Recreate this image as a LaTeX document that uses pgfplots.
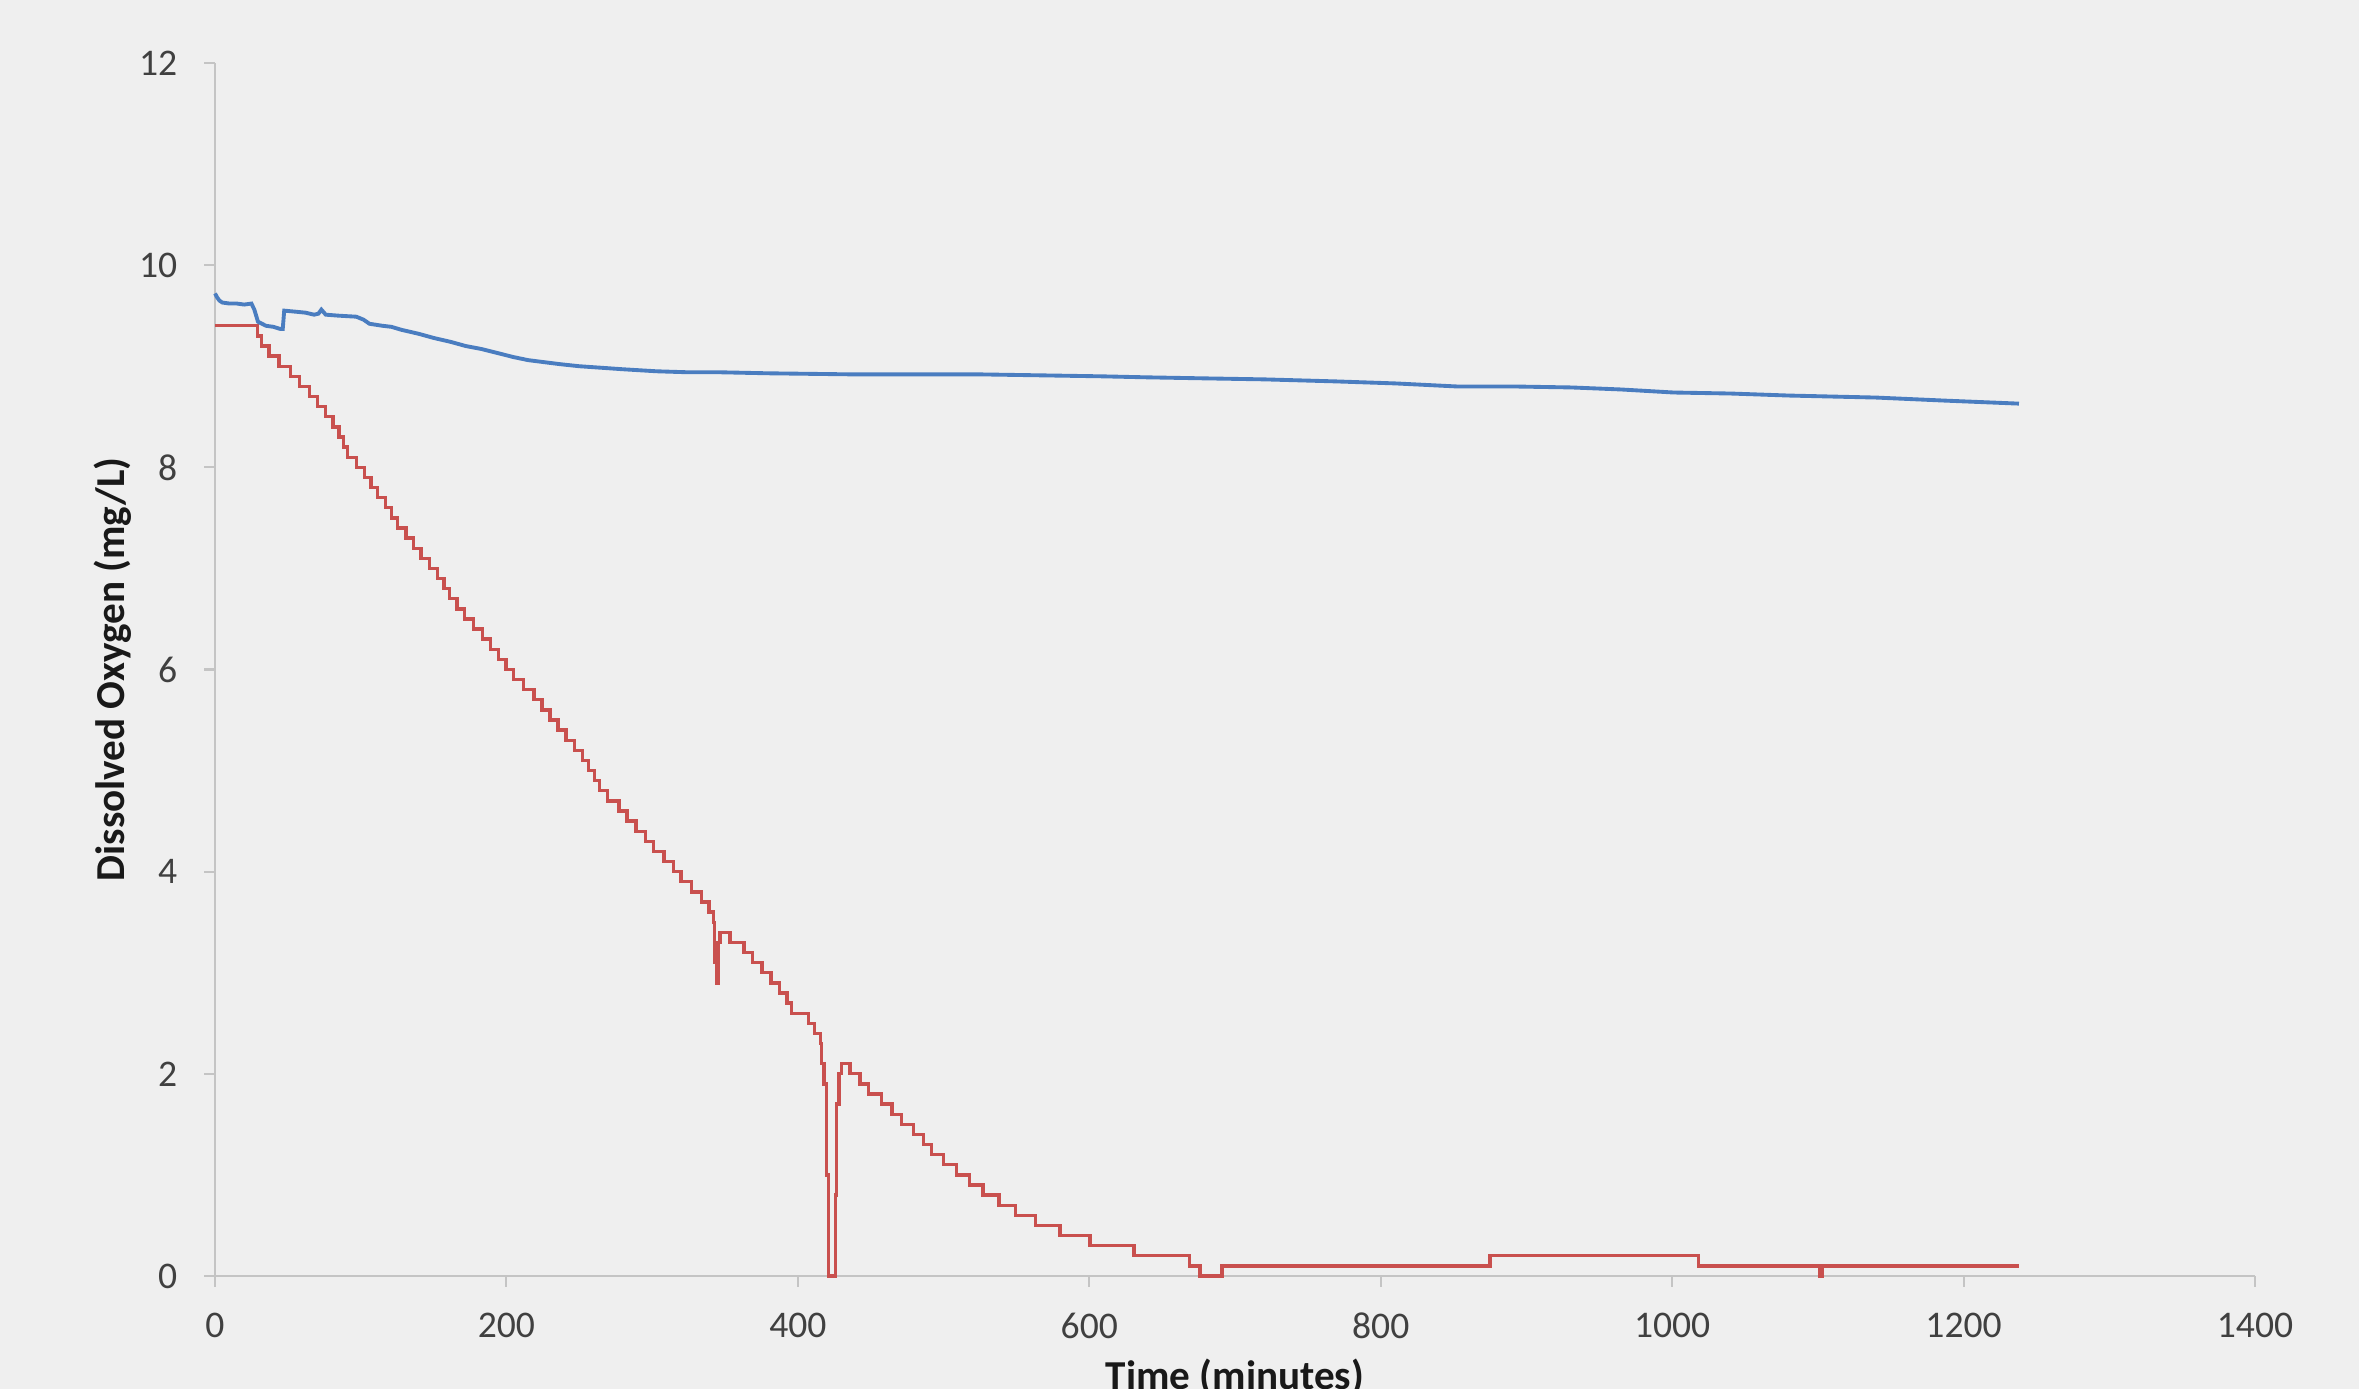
\documentclass[border=0pt]{standalone}
\usepackage{fontspec}
\setmainfont{Carlito}
\usepackage{pgfplots}
\pgfplotsset{compat=1.18}
\definecolor{bg}{HTML}{EFEFEF}
\definecolor{axgray}{HTML}{C4C4C4}
\definecolor{tickcol}{HTML}{404040}
\definecolor{doblue}{HTML}{4A7DC0}
\definecolor{dored}{HTML}{C9504E}
\begin{document}
\begin{tikzpicture}
\useasboundingbox (0,0) rectangle (23.59cm,13.89cm);
\fill[bg] (0,0) rectangle (23.59cm,13.89cm);
\begin{axis}[
  at={(2.15cm,1.13cm)}, anchor=south west,
  scale only axis, width=20.40cm, height=12.13cm,
  xmin=0, xmax=1400, ymin=0, ymax=12,
  xtick={0,200,...,1400}, ytick={0,2,...,12},
  axis x line*=bottom, axis y line*=left,
  axis line style={axgray, line width=0.6pt, -},
  tick style={axgray, line width=0.6pt},
  tick align=outside, major tick length=0.11cm,
  /pgf/number format/assume math mode=true,
  /pgf/number format/1000 sep={},
  ticklabel style={font=\fontsize{10.7}{12}\selectfont, text=tickcol},
  xticklabel style={anchor=north, inner sep=0pt, yshift=-0.25cm},
  yticklabel style={anchor=east, inner sep=0pt, xshift=-0.26cm},
  xlabel={Time (minutes)},
  ylabel={Dissolved Oxygen (mg/L)},
  label style={font=\bfseries\fontsize{11.7}{14}\selectfont, text=black!90},
  xlabel style={at={(axis description cs:0.5,0)}, anchor=north, inner sep=0pt, yshift=-0.82cm},
  ylabel style={at={(axis description cs:0,0.5)}, anchor=center, inner sep=0pt, yshift=1.02cm},
  clip=false,
]
% dissolved oxygen, red series (0.1 mg/L resolution)
\addplot[const plot, color=dored, line width=0.95pt] coordinates {
(0,9.4)(29,9.3)(32,9.2)(37,9.1)(44,9.0)(52,8.9)(58,8.8)(65,8.7)(70.5,8.6)(76,8.5)
(81,8.4)(85,8.3)(88,8.2)(91,8.1)(97,8.0)(102.5,7.9)(107,7.8)(111.6,7.7)(117,7.6)(121,7.5)
(125.3,7.4)(131,7.3)(136.3,7.2)(141.3,7.1)(147,7.0)(152.7,6.9)(157.1,6.8)(160.9,6.7)(166,6.6)(171.2,6.5)
(177.2,6.4)(183.6,6.3)(189.1,6.2)(194.5,6.1)(199.8,6.0)(205,5.9)(211.7,5.8)(219,5.7)(224.5,5.6)(229.9,5.5)
(235.4,5.4)(240.9,5.3)(246.5,5.2)(252.2,5.1)(256.5,5.0)(260.4,4.9)(264,4.8)(269.3,4.7)(277.3,4.6)(282.7,4.5)
(289,4.4)(295.6,4.3)(301,4.2)(308.1,4.1)(314.8,4.0)(319.9,3.9)(326.8,3.8)(333.7,3.7)(338.9,3.6)
(342.3,3.5)(343,3.1)(344,2.9)(345.3,3.3)(346.5,3.4)
(353.5,3.3)(363,3.2)(369,3.1)(375.5,3.0)(381.5,2.9)(387.5,2.8)(392.5,2.7)(395.5,2.6)(407.5,2.5)(411.2,2.4)
(415.5,2.3)(416.3,2.1)(418,1.9)(419.5,1.0)(421,0)(425.8,0.8)(426.6,1.7)(428.3,2.0)(430,2.1)
(435.8,2.0)(442.7,1.9)(448.4,1.8)(457.6,1.7)(464.5,1.6)(471.3,1.5)(479.3,1.4)(486.2,1.3)(491.9,1.2)(500,1.1)
(509,1.0)(518,0.9)(527,0.8)(538,0.7)(549.5,0.6)(563,0.5)(580,0.4)(600.5,0.3)(630.6,0.2)(668.6,0.1)
(676,0)(691,0.1)(875,0.2)(1018,0.1)(1101.5,0)(1103,0.1)(1238,0.1)
};
% blue series
\addplot[color=doblue, line width=1.1pt] coordinates {
(0,9.72)(1.5,9.68)(3,9.65)(5,9.63)(10,9.62)(15,9.62)(20,9.61)(25,9.62)(27,9.56)(29.5,9.44)
(35,9.40)(40,9.39)(44.5,9.37)(46.5,9.37)(47.5,9.55)(55,9.54)(62,9.53)(68,9.51)(71,9.52)(73,9.56)
(76,9.51)(85,9.50)(97,9.49)(102,9.46)(106,9.42)(115,9.40)(121,9.39)(128,9.36)(140,9.32)(150,9.28)
(162,9.24)(172,9.20)(183,9.17)(194,9.13)(205,9.09)(215,9.06)(226,9.04)(237,9.02)(250,9.00)(260,8.99)
(280,8.97)(303,8.95)(325,8.94)(347,8.94)(380,8.93)(434,8.92)(480,8.92)(522,8.92)(566,8.91)(609,8.90)
(640,8.89)(679,8.88)(720,8.87)(769,8.85)(810,8.83)(852,8.80)(890,8.80)(931,8.79)(965,8.77)(1001,8.74)
(1040,8.73)(1080,8.71)(1140,8.69)(1187,8.66)(1238,8.63)
};
\end{axis}
\end{tikzpicture}
\end{document}
